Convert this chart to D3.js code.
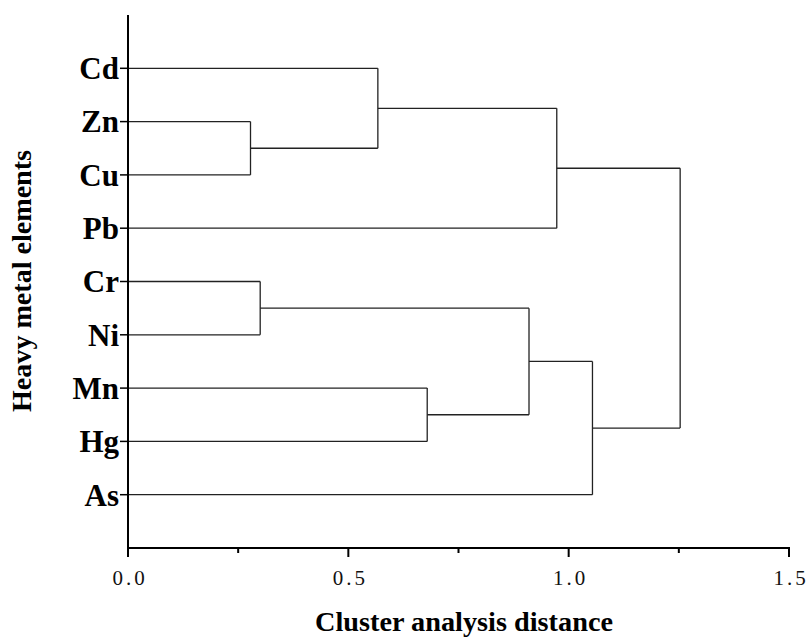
<!DOCTYPE html>
<html><head><meta charset="utf-8">
<script src="https://cdn.jsdelivr.net/npm/d3@7"></script>
<style>body{margin:0;background:#fff}</style>
</head><body>
<svg id="c" width="808" height="639"></svg>
<script>
// Leaves in display order (top to bottom)
const leaves = ["Cd","Zn","Cu","Pb","Cr","Ni","Mn","Hg","As"];
// Linkage: cluster ids 0..8 are leaves, 9+ are merges in order
const mergeA = [1, 4, 0, 6, 10, 11, 13, 14];
const mergeB = [2, 5, 9, 7, 12, 3, 8, 15];
const mergeHeights = [0.278, 0.300, 0.567, 0.679, 0.910, 0.973, 1.054, 1.253];
const xTicksMajor = [0, 0.5, 1.0, 1.5];
const xTicksMinor = [0.25, 0.75, 1.25];
const xTickLabels = ["0.0", "0.5", "1.0", "1.5"];

const svg = d3.select("#c");
const x = d3.scaleLinear().domain([0, 1.5]).range([128, 789]);
const y = d3.scaleLinear().domain([0, leaves.length + 1]).range([548, 15]);
const leafY = name => y(leaves.length - leaves.indexOf(name));

// build nested structure
const nodes = leaves.map(n => ({name: n, h: 0}));
mergeA.forEach((a, i) => {
  nodes.push({h: mergeHeights[i], children: [nodes[a], nodes[mergeB[i]]]});
});
const root = d3.hierarchy(nodes[nodes.length - 1]);
root.eachAfter(d => {
  if (!d.children) d.yy = leafY(d.data.name);
  else d.yy = d3.mean(d.children, c => c.yy);
  d.xx = x(d.data.h);
});

const g = svg.append("g");
root.descendants().forEach(d => {
  if (d.parent) {
    g.append("path")
      .attr("d", `M${d.xx},${d.yy}H${d.parent.xx}`)
      .attr("stroke", "#222").attr("stroke-width", 1.3).attr("fill", "none");
  }
  if (d.children) {
    const ys = d.children.map(c => c.yy);
    g.append("path")
      .attr("d", `M${d.xx},${d3.min(ys)}V${d3.max(ys)}`)
      .attr("stroke", "#222").attr("stroke-width", 1.3).attr("fill", "none");
  }
});

// Axes
const axisColor = "#000";
svg.append("line").attr("x1", x(0)).attr("x2", x(0)).attr("y1", y(leaves.length + 1)).attr("y2", y(0) + 1)
  .attr("stroke", axisColor).attr("stroke-width", 2);
svg.append("line").attr("x1", x(0) - 1).attr("x2", x(1.5) + 1).attr("y1", y(0)).attr("y2", y(0))
  .attr("stroke", axisColor).attr("stroke-width", 2);

xTicksMajor.forEach((t, i) => {
  svg.append("line").attr("x1", x(t)).attr("x2", x(t)).attr("y1", y(0)).attr("y2", y(0) + 9)
    .attr("stroke", axisColor).attr("stroke-width", 2);
  svg.append("text").attr("x", x(t) + 2).attr("y", 585).attr("text-anchor", "middle")
    .attr("font-family", "'Liberation Serif', serif").attr("font-size", 21)
    .attr("letter-spacing", 3).attr("fill", "#111").text(xTickLabels[i]);
});
xTicksMinor.forEach(t => {
  svg.append("line").attr("x1", x(t)).attr("x2", x(t)).attr("y1", y(0)).attr("y2", y(0) + 5)
    .attr("stroke", axisColor).attr("stroke-width", 2);
});

leaves.forEach(n => {
  const yy = leafY(n);
  svg.append("line").attr("x1", x(0) - 8).attr("x2", x(0)).attr("y1", yy).attr("y2", yy)
    .attr("stroke", axisColor).attr("stroke-width", 1.5);
  svg.append("text").attr("x", x(0) - 9).attr("y", yy).attr("dy", "0.35em").attr("text-anchor", "end")
    .attr("font-family", "'Liberation Serif', serif").attr("font-weight", "bold").attr("font-size", 31)
    .attr("fill", "#000").text(n);
});

svg.append("text").attr("x", 464).attr("y", 631).attr("text-anchor", "middle")
  .attr("font-family", "'Liberation Serif', serif").attr("font-weight", "bold").attr("font-size", 27)
  .attr("textLength", 298).attr("lengthAdjust", "spacingAndGlyphs")
  .attr("fill", "#000").text("Cluster analysis distance");
svg.append("text").attr("transform", "translate(31,281) rotate(-90)").attr("text-anchor", "middle")
  .attr("font-family", "'Liberation Serif', serif").attr("font-weight", "bold").attr("font-size", 27)
  .attr("textLength", 262).attr("lengthAdjust", "spacingAndGlyphs")
  .attr("fill", "#000").text("Heavy metal elements");
</script>
</body></html>
